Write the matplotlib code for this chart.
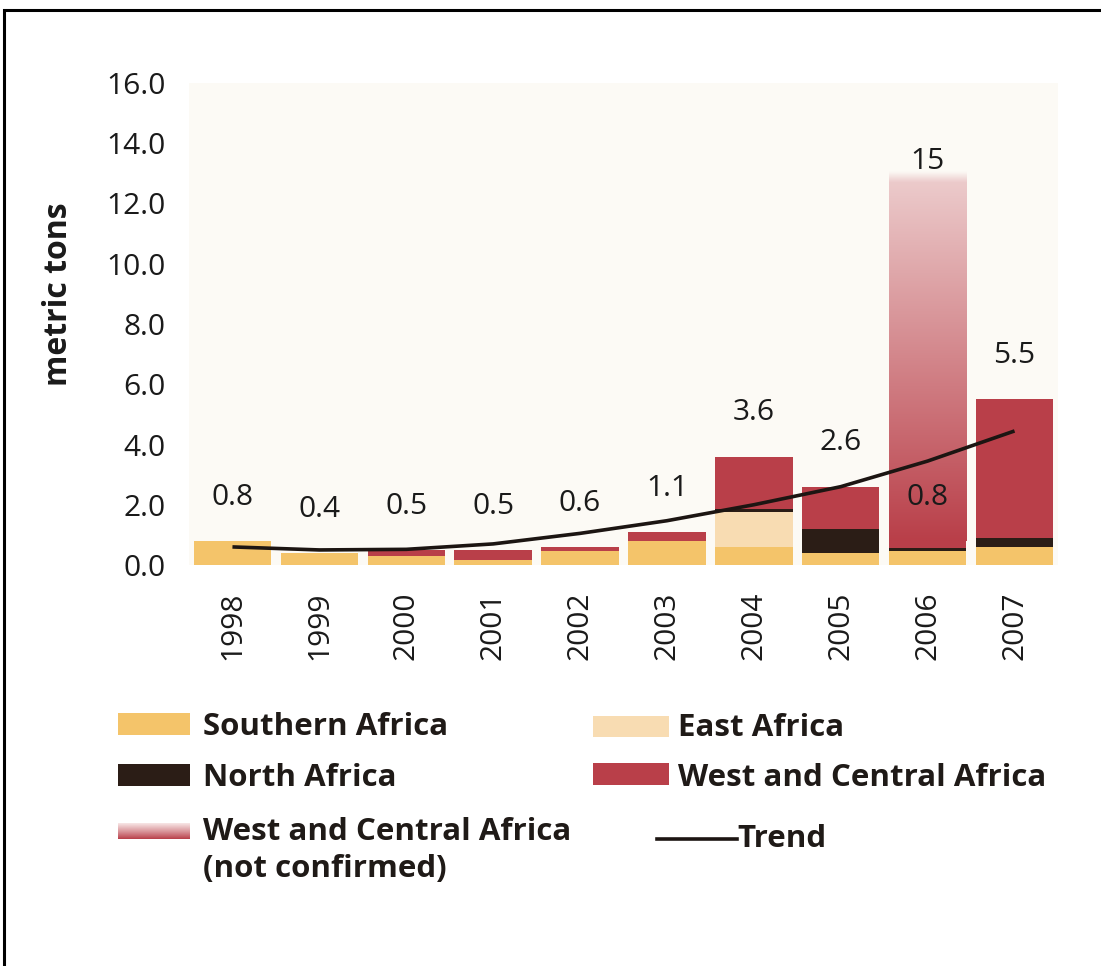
import matplotlib
matplotlib.use("Agg")
import matplotlib.pyplot as plt
import matplotlib.patches as mpatches
from matplotlib.colors import to_rgb
import numpy as np

plt.rcParams['font.family'] = ['Open Sans', 'DejaVu Sans']

# Seizures by region, metric tons
years = ['1998', '1999', '2000', '2001', '2002', '2003', '2004', '2005', '2006', '2007']
southern = [0.8, 0.4, 0.3, 0.15, 0.45, 0.8, 0.6, 0.4, 0.45, 0.6]
east = [0.0, 0.0, 0.0, 0.0, 0.0, 0.0, 1.15, 0.0, 0.0, 0.0]
north = [0.0, 0.0, 0.0, 0.0, 0.0, 0.0, 0.1, 0.8, 0.1, 0.3]
west_central = [0.0, 0.0, 0.2, 0.35, 0.15, 0.3, 1.75, 1.4, 0.25, 4.6]
# 2006 total including unconfirmed reports
unconfirmed_year = '2006'
unconfirmed_total = 15
trend = [0.6, 0.5, 0.52, 0.7, 1.05, 1.47, 2.0, 2.6, 3.45, 4.45]
value_labels = ['0.8', '0.4', '0.5', '0.5', '0.6', '1.1', '3.6', '2.6', '0.8', '5.5']

c_south = '#f4c46a'
c_east = '#f8dcb2'
c_north = '#2b1d16'
c_west = '#b93f49'
c_trend = '#1c1512'
c_text = '#1a1a1a'

W, H = 1101, 966
fig = plt.figure(figsize=(W / 100, H / 100), dpi=100)
fig.patch.set_facecolor('white')

ax = fig.add_axes([189 / W, 1 - 565 / H, (1058 - 189) / W, (565 - 83) / H])
ax.set_facecolor('#fcfaf5')

x = np.arange(len(years))
bw = 0.89
south = np.array(southern)
eas = np.array(east)
nor = np.array(north)
wc = np.array(west_central)

ax.bar(x, south, bw, color=c_south, linewidth=0)
ax.bar(x, eas, bw, bottom=south, color=c_east, linewidth=0)
ax.bar(x, nor, bw, bottom=south + eas, color=c_north, linewidth=0)
ax.bar(x, wc, bw, bottom=south + eas + nor, color=c_west, linewidth=0)
totals = south + eas + nor + wc

# unconfirmed part of 2006: red fading towards white at the top
i6 = years.index(unconfirmed_year)
n = 256
t = np.linspace(0, 1, n)
red = np.array(to_rgb(c_west))
fade = np.clip(t * 0.9, 0, 1)[:, None]
rgb = red[None, :] * (1 - fade) + np.array([0.99, 0.97, 0.96])[None, :] * fade
alpha = np.clip((0.865 - t) * 40, 0, 1)[:, None]
rgba = np.hstack([rgb, alpha])
img = np.repeat(rgba[:, None, :], 2, axis=1)
ax.imshow(img, extent=[i6 - bw / 2, i6 + bw / 2, totals[i6], unconfirmed_total],
          origin='lower', aspect='auto', interpolation='bilinear', zorder=2)
ax.set_xlim(-0.5, len(years) - 0.5)
ax.set_ylim(0, 16)

ax.plot(x, trend, color=c_trend, lw=2.6, zorder=4, solid_capstyle='butt')

for xi, tot, lab in zip(x, totals, value_labels):
    ax.text(xi, tot + 1.45, lab, ha='center', va='center', fontsize=21.5, color=c_text, zorder=5)
ax.text(i6, unconfirmed_total - 1.6, str(unconfirmed_total), ha='center', va='center',
        fontsize=21.5, color=c_text, zorder=5)

ax.set_yticks(np.arange(0, 17, 2))
ax.set_yticklabels([f'{v:.1f}' for v in np.arange(0, 17, 2)])
ax.set_xticks(x)
ax.set_xticklabels(years, rotation=90)
ax.tick_params(axis='both', length=0, labelsize=21.5, colors=c_text)
ax.tick_params(axis='y', pad=17)
ax.tick_params(axis='x', pad=19)
for s in ax.spines.values():
    s.set_visible(False)

ax.set_ylabel('metric tons', fontsize=23, fontweight='bold', color=c_text)
ax.yaxis.set_label_coords(-0.131, 0.562)

# legend drawn in figure pixels
def px_rect(x0, y0, x1, y1, color):
    fig.add_artist(mpatches.Rectangle((x0 / W, 1 - y1 / H), (x1 - x0) / W, (y1 - y0) / H,
                                      transform=fig.transFigure, color=color, lw=0))

def px_text(xp, yp, s):
    fig.text(xp / W, 1 - yp / H, s, fontsize=22.5, fontweight='bold', color='#1f1a17',
             ha='left', va='baseline')

px_rect(118, 713, 190, 735, c_south)
px_text(203, 735, 'Southern Africa')
px_rect(118, 764, 190, 786, c_north)
px_text(203, 786, 'North Africa')
px_text(203, 840, 'West and Central Africa')
px_text(203, 877, '(not confirmed)')
px_rect(593, 716, 669, 737, c_east)
px_text(678, 736, 'East Africa')
px_rect(593, 763, 669, 785, c_west)
px_text(678, 786, 'West and Central Africa')
fig.add_artist(plt.Line2D([657 / W, 737 / W], [1 - 839 / H, 1 - 839 / H],
                          transform=fig.transFigure, color=c_trend, lw=2.6))
px_text(737, 847, 'Trend')

gax = fig.add_axes([118 / W, 1 - 839 / H, 72 / W, 16 / H])
gt = np.linspace(0, 1, 32)[:, None]
gcol = red[None, :] * (1 - gt ** 0.9) + np.array([0.97, 0.9, 0.9])[None, :] * gt ** 0.9
gax.imshow(np.repeat(gcol[:, None, :], 2, axis=1), origin='lower', aspect='auto',
           extent=[0, 1, 0, 1], interpolation='bilinear')
gax.axis('off')

# page frame
fig.add_artist(mpatches.Rectangle((4 / W, -0.1), 1.2, 1.1 - 10 / H, transform=fig.transFigure,
                                  fill=False, edgecolor='black', lw=2.2))

fig.savefig('out.png', dpi=100)
